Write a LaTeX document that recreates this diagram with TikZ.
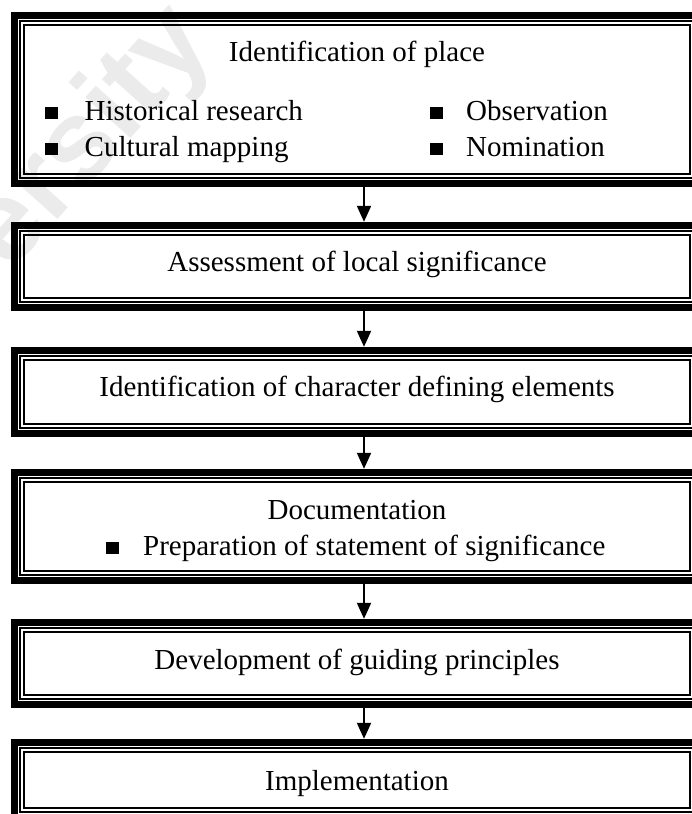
\documentclass[tikz,border=0pt]{standalone}
\usepackage{fontspec}
\setmainfont{Liberation Serif}
\newfontfamily\wmfont{Liberation Sans}
\usetikzlibrary{arrows.meta}
\begin{document}
\begin{tikzpicture}[x=1pt,y=-1pt,
  box/.style={draw=none, inner sep=0pt, minimum width=692pt},
  lbl/.style={font=\fontsize{29}{34}\selectfont, inner sep=0pt, anchor=base},
  item/.style={lbl, anchor=base west},
  bul/.style={fill=black, inner sep=0pt, minimum width=13pt, minimum height=12pt, anchor=south west},
  arr/.style={line width=2pt, -{Triangle[width=14pt,length=16pt]}},
  thickframe/.style={line width=7pt},
  thinframe/.style={line width=1.7pt},
]
\useasboundingbox (0,0) rectangle (692,814);
\clip (0,0) rectangle (692,814);

% faint watermark behind the chart
\node[text=black!8, font=\wmfont\bfseries\fontsize{115}{115}\selectfont,
      rotate=48, anchor=base east, inner sep=0pt] (wm) at (215,45) {University};

% step boxes (outer edges)
\node[box, minimum height=175pt] (b1) at (357,99.5) {};
\node[box, minimum height=89pt]  (b2) at (357,266.5) {};
\node[box, minimum height=90pt]  (b3) at (357,392) {};
\node[box, minimum height=115pt] (b4) at (357,526.5) {};
\node[box, minimum height=89pt]  (b5) at (357,663.5) {};
\node[box, minimum height=82pt]  (b6) at (357,780) {};

% thick-thin-thin frame around each box
\foreach \n in {b1,b2,b3,b4,b5,b6}{
  \draw[thickframe] ([shift={(3.5,3.5)}]\n.north west) rectangle ([shift={(-3.5,-3.5)}]\n.south east);
  \draw[thinframe] ([shift={(9.5,9.5)}]\n.north west) rectangle ([shift={(-9.5,-9.5)}]\n.south east);
  \draw[thinframe] ([shift={(13,13)}]\n.north west) rectangle ([shift={(-13,-13)}]\n.south east);
}

% box texts
\node[lbl] (t1) at (357,61.7) {Identification of place};
\node[bul] (s1) at (45,119.5) {};
\node[item] (i1) at (84.5,120.7) {Historical research};
\node[bul] (s2) at (45,155.5) {};
\node[item] (i2) at (84.5,156.7) {Cultural mapping};
\node[bul] (s3) at (429.5,119.5) {};
\node[item] (i3) at (466,120.7) {Observation};
\node[bul] (s4) at (429.5,155.5) {};
\node[item] (i4) at (466,156.7) {Nomination};

\node[lbl] (t2) at (357,271.5) {Assessment of local significance};
\node[lbl] (t3) at (357,396.5) {Identification of character defining elements};

\node[lbl] (t4) at (357,519) {Documentation};
\node[bul] (s5) at (106,554) {};
\node[item] (i5) at (143,555.3) {Preparation of statement of significance};

\node[lbl] (t5) at (357,669) {Development of guiding principles};
\node[lbl] (t6) at (357,790) {Implementation};

% connectors
\coordinate (ax) at (364,0);
\draw[arr] (b1.south -| ax) -- (b2.north -| ax);
\draw[arr] (b2.south -| ax) -- (b3.north -| ax);
\draw[arr] (b3.south -| ax) -- (b4.north -| ax);
\draw[arr] (b4.south -| ax) -- (b5.north -| ax);
\draw[arr] (b5.south -| ax) -- (b6.north -| ax);
\end{tikzpicture}
\end{document}
